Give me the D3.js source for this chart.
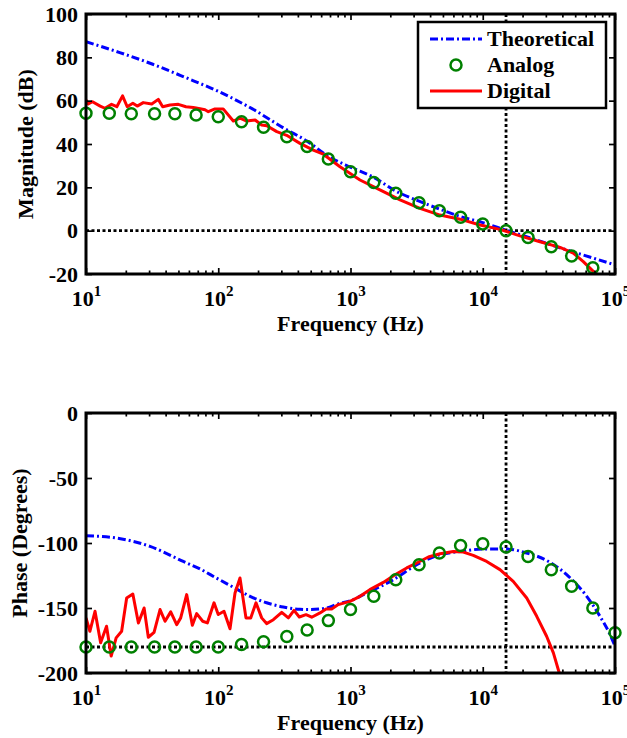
<!DOCTYPE html>
<html><head><meta charset="utf-8">
<script src="https://cdn.jsdelivr.net/npm/d3@7"></script>
<style>
body{margin:0;background:#fff}
text{font-family:"Liberation Serif","Times New Roman",serif;font-weight:bold;fill:#000}
</style>
</head><body>
<svg id="chart" width="627" height="738"></svg>
<script>
// ---------- data ----------
const xTickValues = [10, 100, 1000, 10000, 100000];
const magTicks = [-20, 0, 20, 40, 60, 80, 100];
const phaseTicks = [-200, -150, -100, -50, 0];
const crossoverFreq = 15000;
const magRefLevel = 0;
const phaseRefLevel = -180;
const legendLabels = ["Theoretical", "Analog", "Digital"];

const analogFreq = [10,15,22,33,47,68,100,150,220,330,470,680,1000,1500,2200,3300,4700,6800,10000,15000,22000,33000,47000,68000,100000];
const analogMag = [54.2,54.2,54,54,54,53.4,52.6,50.3,47.7,43.4,38.8,33.1,27.2,22.2,17.3,12.9,9.2,6.2,3.1,0,-3.2,-7.4,-11.7,-17.1,null];
const analogPhase = [-180,-180,-180,-180,-180,-180,-180,-178,-176,-172,-167,-159.7,-151.2,-141,-128.2,-116.7,-107.7,-101.9,-100.6,-103.1,-110.3,-120.5,-133.3,-150,-169.1];

const theoMagFreq = [10,18,32,57,100,180,320,470,680,1000,1500,2200,3300,4700,6800,10000,15000,22000,33000,47000,68000,100000];
const theoMag = [87.2,82.2,76.8,70.6,64.3,56.3,47,41.3,34.3,29.3,24.6,18.3,13.6,10,6.5,3.7,0.2,-3,-6.6,-9.6,-12.6,-15.8];

const theoPhaseFreq = [10,17,30.5,54.4,73,97,130,174,232,310,415,494,661,808,991,1330,2110,3170,4750,6730,10100,15200,21500,30400,43100,61100,77000,91700,100000];
const theoPhase = [-94.4,-96.2,-102.6,-114.2,-120,-127,-134,-141,-146,-149.2,-151,-151.2,-150,-146.8,-144.5,-138.4,-128.2,-116.7,-109,-106.5,-104.7,-104.7,-107.7,-113.4,-124.4,-141,-156.4,-170.4,-179.4];

const digMagFreq = [10,10.4,11.2,12.8,13.9,15.6,17.1,18.9,20.5,22.6,24.4,27.1,31.4,35.2,38,43.2,49.9,57,64.8,72.8,79.4,84.1,94.5,109,130,146,164,190,213,233,277,329,415,523,623,833,1180,1670,2370,3350,4750,6730,9530,13500,19100,27100,38400,48400,57600,66700,72700];
const digMag = [60.3,58.5,59.5,57.5,56.5,58.3,57.2,62.2,57.2,58.8,57.5,59.1,58.5,60.6,57.2,58,58.3,57.2,56.9,56.3,55.8,54.9,56.2,56.2,50.6,51.9,50.6,51.1,48.8,48.4,45.7,44,40.3,37.2,35.3,29.5,23.4,18.8,14.2,10.3,7.2,5.3,2.6,0.6,-2.4,-5.1,-7.7,-10.4,-14.3,-18.1,-20.4];

const digPhaseFreq = [10,10.7,11.7,12.9,14.3,15.5,16.9,18.6,20.3,22.6,24.9,27.5,29.6,32.7,36.3,39.6,43.7,48.5,52,57.7,63.7,68.7,76.3,82.7,92.9,100,110.5,122.7,133.9,146,162,176,193,213,232,261,302,339,374,410,461,509,588,653,721,808,991,1180,1400,1770,2170,2660,3170,3880,4750,5990,7130,8480,10700,13500,17000,21500,25600,30400,34200,37900,40000];
const digPhase = [-157.6,-167.9,-152.5,-176.8,-164,-187,-173,-167.9,-142.3,-139.2,-161.5,-150,-172.5,-168.7,-151.2,-160.2,-153,-162.8,-157.6,-139.7,-163.3,-154.3,-160.2,-161.5,-146,-155,-152.5,-166,-138.5,-126.9,-157.6,-157.6,-146,-157.6,-162,-159,-153.3,-157.6,-151.8,-156.9,-155.1,-157.1,-153.8,-150.7,-150.7,-147.4,-144.9,-141,-135.9,-130.3,-124.4,-119.2,-115.4,-110.8,-108.3,-106.5,-107,-109.5,-114.2,-120.5,-129.5,-142.3,-156.4,-171.7,-184.5,-200,-210];

// ---------- styles ----------
const BLUE = "#0000ff", GREEN = "#008000", RED = "#ff0000";
const DASHDOT = "8,3,2,3", DOTTED = "3,2.5";

const svg = d3.select("#chart");
const left = 86, right = 615;
const x = d3.scaleLog().domain([10, 1e5]).range([left, right]);

const minorX = [];
for (let e = 1; e < 5; e++) for (let m = 2; m <= 9; m++) minorX.push(m * Math.pow(10, e));

function panel(id, top, bottom, yDomain, yTicks, yTitle, titleX, refLevel, theoF, theoV, anaV, digF, digV) {
  const y = d3.scaleLinear().domain(yDomain).range([bottom, top]);
  const g = svg.append("g");
  g.append("clipPath").attr("id", id).append("rect")
    .attr("x", left).attr("y", top).attr("width", right - left).attr("height", bottom - top);
  const plot = g.append("g").attr("clip-path", `url(#${id})`);

  // reference dotted lines
  plot.append("line").attr("x1", left).attr("x2", right).attr("y1", y(refLevel)).attr("y2", y(refLevel))
    .attr("stroke", "#000").attr("stroke-width", 2.8).attr("stroke-dasharray", DOTTED);
  plot.append("line").attr("x1", x(crossoverFreq)).attr("x2", x(crossoverFreq)).attr("y1", top).attr("y2", bottom)
    .attr("stroke", "#000").attr("stroke-width", 2.8).attr("stroke-dasharray", DOTTED);

  const smooth = d3.line().x(d => x(d[0])).y(d => y(d[1])).curve(d3.curveMonotoneX);
  const straight = d3.line().x(d => x(d[0])).y(d => y(d[1]));

  plot.append("path").datum(d3.zip(theoF, theoV)).attr("d", smooth)
    .attr("fill", "none").attr("stroke", BLUE).attr("stroke-width", 3).attr("stroke-dasharray", DASHDOT);

  g.append("g").selectAll("circle").data(d3.zip(analogFreq, anaV).filter(d => d[1] !== null))
    .join("circle").attr("cx", d => x(d[0])).attr("cy", d => y(d[1])).attr("r", 5.5)
    .attr("fill", "none").attr("stroke", GREEN).attr("stroke-width", 2.5);

  plot.append("path").datum(d3.zip(digF, digV)).attr("d", straight)
    .attr("fill", "none").attr("stroke", RED).attr("stroke-width", 3).attr("stroke-linejoin", "round");

  // axes
  const tickStyle = sel => { sel.select(".domain").remove(); sel.selectAll(".tick line").attr("stroke", "#000").attr("stroke-width", 1.7); };
  const bx = g.append("g").attr("transform", `translate(0,${bottom})`)
    .call(d3.axisBottom(x).tickValues(xTickValues).tickSizeInner(-6).tickSizeOuter(0));
  tickStyle(bx);
  bx.selectAll(".tick text").each(function(d) {
    const t = d3.select(this);
    t.text(null).attr("y", 32).attr("dy", null).attr("font-size", "22px").attr("text-anchor", "middle");
    t.append("tspan").text("10");
    t.append("tspan").attr("dy", -10).attr("font-size", "15px").text(Math.round(Math.log10(d)));
  });
  tickStyle(g.append("g").attr("transform", `translate(0,${bottom})`)
    .call(d3.axisBottom(x).tickValues(minorX).tickSize(-3.5).tickFormat("")));
  tickStyle(g.append("g").attr("transform", `translate(0,${top})`)
    .call(d3.axisTop(x).tickValues(xTickValues).tickSize(-6).tickFormat("")));
  tickStyle(g.append("g").attr("transform", `translate(0,${top})`)
    .call(d3.axisTop(x).tickValues(minorX).tickSize(-3.5).tickFormat("")));
  const ly = g.append("g").attr("transform", `translate(${left},0)`)
    .call(d3.axisLeft(y).tickValues(yTicks).tickSizeInner(-6).tickSizeOuter(0).tickPadding(8).tickFormat(d => d));
  tickStyle(ly);
  ly.selectAll(".tick text").attr("font-size", "22px").attr("dy", "0.33em").attr("x", -8);
  tickStyle(g.append("g").attr("transform", `translate(${right},0)`)
    .call(d3.axisRight(y).tickValues(yTicks).tickSize(-6).tickFormat("")));

  g.append("rect").attr("x", left).attr("y", top).attr("width", right - left).attr("height", bottom - top)
    .attr("fill", "none").attr("stroke", "#000").attr("stroke-width", 3);

  g.append("text").attr("x", (left + right) / 2).attr("y", bottom + 57).attr("text-anchor", "middle")
    .attr("font-size", "22px").text("Frequency (Hz)");
  g.append("text").attr("transform", `translate(${titleX},${(top + bottom) / 2}) rotate(-90)`)
    .attr("text-anchor", "middle").attr("font-size", "22px").text(yTitle);
  return g;
}

panel("clipTop", 14, 274, [-20, 100], magTicks, "Magnitude (dB)", 33, magRefLevel,
  theoMagFreq, theoMag, analogMag, digMagFreq, digMag);
panel("clipBot", 413, 673, [-200, 0], phaseTicks, "Phase (Degrees)", 27, phaseRefLevel,
  theoPhaseFreq, theoPhase, analogPhase, digPhaseFreq, digPhase);

// legend
const lg = svg.append("g");
lg.append("rect").attr("x", 418).attr("y", 22).attr("width", 188).attr("height", 86)
  .attr("fill", "#fff").attr("stroke", "#000").attr("stroke-width", 2.5);
const rowsY = [39, 65, 91];
legendLabels.forEach((lab, i) => {
  const yy = rowsY[i];
  if (i === 0) lg.append("line").attr("x1", 430).attr("x2", 482).attr("y1", yy).attr("y2", yy)
    .attr("stroke", BLUE).attr("stroke-width", 3).attr("stroke-dasharray", DASHDOT);
  if (i === 1) lg.append("circle").attr("cx", 456).attr("cy", yy).attr("r", 5.5)
    .attr("fill", "none").attr("stroke", GREEN).attr("stroke-width", 2.5);
  if (i === 2) lg.append("line").attr("x1", 430).attr("x2", 482).attr("y1", yy).attr("y2", yy)
    .attr("stroke", RED).attr("stroke-width", 3);
  lg.append("text").attr("x", 487).attr("y", yy + 6.5).attr("font-size", "22px").text(lab);
});
</script>
</body></html>
